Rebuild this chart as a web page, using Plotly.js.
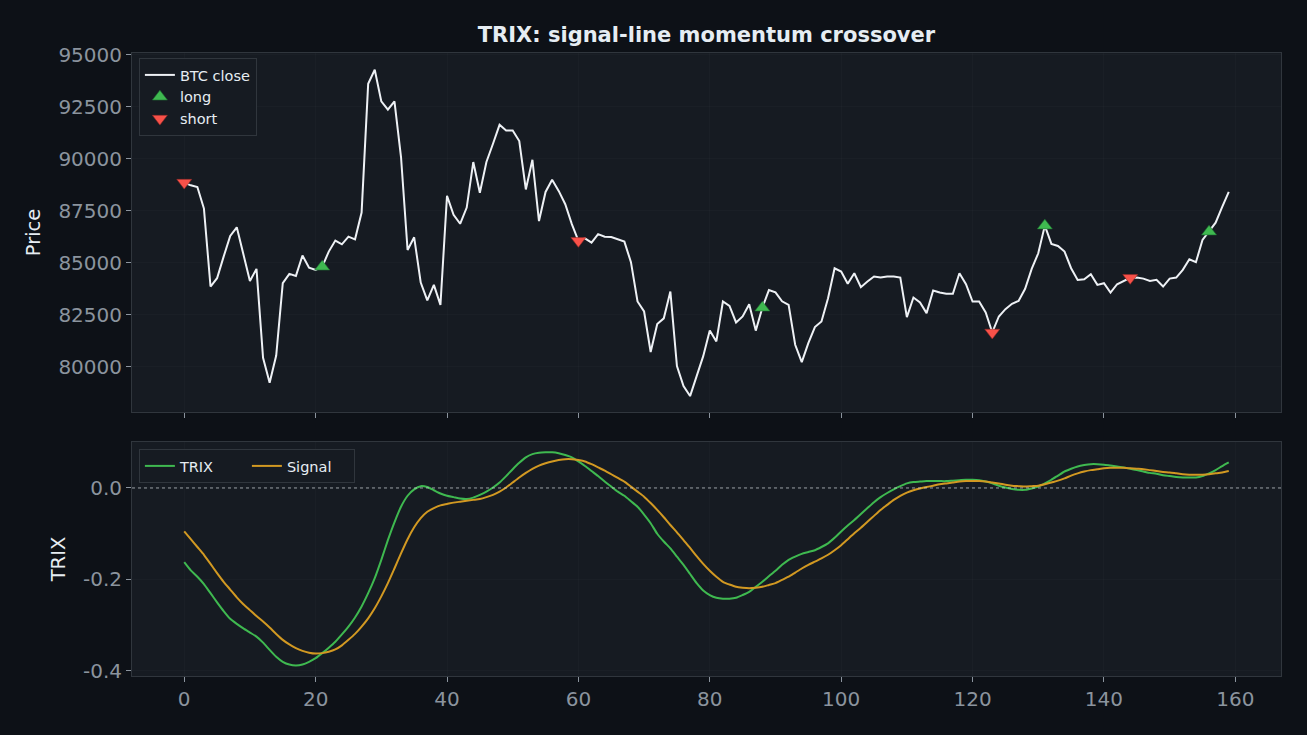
<!DOCTYPE html>
<html>
<head>
<meta charset="utf-8">
<script src="https://cdn.plot.ly/plotly-3.0.1.min.js"></script>
<style>
  html, body { margin: 0; padding: 0; background: #0d1117; }
  #myDiv { width: 1307px; height: 735px; }
</style>
</head>
<body>
<div id="myDiv"></div>
<script>
// BTC close (index 0..159)
const price = [
  88850, 88720, 88640, 87600, 83850, 84250, 85290, 86280, 86700, 85480,
  84120, 84700, 80420, 79220, 80530, 84010, 84460, 84360, 85340, 84760,
  84650, 84800, 85530, 86060, 85880, 86250, 86120, 87410, 93600, 94280,
  92760, 92360, 92760, 90080, 85610, 86220, 84040, 83180, 83930, 82970,
  88210, 87300, 86870, 87650, 89840, 88360, 89840, 90720, 91630, 91360,
  91360, 90850, 88520, 89950, 87000, 88400, 88990, 88450, 87810, 86850,
  86050, 86170, 85960, 86370, 86250, 86230, 86120, 86010, 85020, 83130,
  82650, 80700, 82050, 82320, 83610, 80020, 79060, 78580, 79540, 80500,
  81730, 81210, 83130, 82920, 82120, 82410, 83000, 81730, 82830, 83680,
  83570, 83140, 82970, 81050, 80210, 81130, 81900, 82170, 83290, 84730,
  84570, 83980, 84490, 83820, 84090, 84330, 84280, 84330, 84330, 84280,
  82380, 83320, 83080, 82570, 83660, 83560, 83500, 83500, 84490, 83960,
  83130, 83130, 82600, 81640, 82410, 82760, 83020, 83160, 83740, 84700,
  85450, 86780, 85900, 85800, 85530, 84730, 84170, 84200, 84440, 83930,
  84010, 83560, 83960, 84120, 84270, 84280, 84230, 84120, 84170, 83850,
  84230, 84280, 84650, 85160, 85020, 86090, 86490, 86920, 87680, 88400
];

const trix = [
  -0.162, -0.180, -0.194, -0.210, -0.230, -0.250, -0.269, -0.286, -0.297, -0.307,
  -0.316, -0.325, -0.338, -0.354, -0.369, -0.380, -0.386, -0.388, -0.386, -0.380,
  -0.372, -0.361, -0.349, -0.336, -0.320, -0.303, -0.283, -0.259, -0.230, -0.197,
  -0.157, -0.114, -0.075, -0.041, -0.017, -0.003, 0.004, 0.002, -0.005, -0.012,
  -0.017, -0.020, -0.023, -0.024, -0.021, -0.015, -0.008, 0.001, 0.012, 0.026,
  0.041, 0.055, 0.067, 0.074, 0.077, 0.078, 0.078, 0.076, 0.072, 0.067,
  0.058, 0.048, 0.037, 0.026, 0.014, 0.003, -0.008, -0.017, -0.029, -0.041,
  -0.058, -0.077, -0.100, -0.117, -0.132, -0.150, -0.168, -0.188, -0.208, -0.224,
  -0.234, -0.240, -0.242, -0.242, -0.240, -0.234, -0.227, -0.216, -0.205, -0.193,
  -0.181, -0.168, -0.157, -0.150, -0.144, -0.140, -0.136, -0.129, -0.121, -0.109,
  -0.095, -0.082, -0.070, -0.057, -0.044, -0.031, -0.020, -0.011, -0.003, 0.004,
  0.010, 0.013, 0.014, 0.015, 0.015, 0.015, 0.015, 0.016, 0.017, 0.018,
  0.018, 0.017, 0.014, 0.010, 0.005, 0.001, -0.002, -0.004, -0.004, -0.001,
  0.003, 0.010, 0.018, 0.027, 0.036, 0.042, 0.047, 0.050, 0.052, 0.052,
  0.051, 0.049, 0.047, 0.045, 0.042, 0.039, 0.036, 0.033, 0.031, 0.028,
  0.026, 0.024, 0.023, 0.023, 0.023, 0.026, 0.032, 0.039, 0.048, 0.056
];

const signal = [
  -0.095, -0.112, -0.129, -0.146, -0.166, -0.186, -0.205, -0.222, -0.239, -0.254,
  -0.267, -0.280, -0.292, -0.305, -0.319, -0.332, -0.342, -0.350, -0.356, -0.360,
  -0.362, -0.361, -0.358, -0.353, -0.344, -0.332, -0.319, -0.303, -0.285, -0.263,
  -0.237, -0.208, -0.176, -0.143, -0.112, -0.086, -0.066, -0.052, -0.044, -0.038,
  -0.035, -0.032, -0.030, -0.028, -0.026, -0.024, -0.020, -0.015, -0.008, 0.001,
  0.012, 0.023, 0.033, 0.042, 0.049, 0.054, 0.058, 0.061, 0.063, 0.063,
  0.061, 0.058, 0.052, 0.045, 0.038, 0.030, 0.022, 0.014, 0.003, -0.008,
  -0.019, -0.033, -0.048, -0.064, -0.081, -0.097, -0.114, -0.131, -0.149, -0.166,
  -0.181, -0.194, -0.205, -0.211, -0.216, -0.218, -0.219, -0.218, -0.216, -0.212,
  -0.208, -0.201, -0.194, -0.185, -0.176, -0.168, -0.161, -0.154, -0.146, -0.136,
  -0.125, -0.112, -0.099, -0.087, -0.074, -0.061, -0.048, -0.037, -0.026, -0.017,
  -0.010, -0.005, -0.001, 0.002, 0.005, 0.008, 0.010, 0.012, 0.014, 0.015,
  0.015, 0.015, 0.014, 0.012, 0.010, 0.007, 0.005, 0.004, 0.003, 0.004,
  0.005, 0.008, 0.012, 0.016, 0.021, 0.027, 0.032, 0.036, 0.039, 0.041,
  0.043, 0.044, 0.044, 0.044, 0.043, 0.042, 0.041, 0.039, 0.037, 0.035,
  0.034, 0.032, 0.030, 0.029, 0.029, 0.029, 0.030, 0.032, 0.034, 0.037
];

// crossover bars
const longIdx = [21, 88, 131, 156];
const shortIdx = [0, 60, 123, 144];

const xTicks = [0, 20, 40, 60, 80, 100, 120, 140, 160];
const priceTicks = [80000, 82500, 85000, 87500, 90000, 92500, 95000];
const trixTicks = [-0.4, -0.2, 0.0];
const trixTickText = ["-0.4", "-0.2", "0.0"];

const idx = price.map((_, i) => i);

const BG = "#0d1117";
const PANEL = "#161b22";
const SPINE = "#30363d";
const TXT = "#e6edf3";
const TICK = "#8b949e";
const FONT = "DejaVu Sans, sans-serif";

const data = [
    {
        type: "scatter", mode: "lines", name: "BTC close",
        x: idx, y: price, xaxis: "x", yaxis: "y",
        line: { color: "#eef1f5", width: 2 },
        legend: "legend",
    },
    {
        type: "scatter", mode: "markers", name: "long",
        x: longIdx, y: longIdx.map((i) => price[i]), xaxis: "x", yaxis: "y",
        marker: { symbol: "triangle-up", size: 13, color: "#3fb950", line: { color: "#1f6f33", width: 0.6 } },
        legend: "legend",
    },
    {
        type: "scatter", mode: "markers", name: "short",
        x: shortIdx, y: shortIdx.map((i) => price[i]), xaxis: "x", yaxis: "y",
        marker: { symbol: "triangle-down", size: 13, color: "#f85149", line: { color: "#8e2a26", width: 0.6 } },
        legend: "legend",
    },
    {
        type: "scatter", mode: "lines", name: "TRIX",
        x: idx, y: trix, xaxis: "x2", yaxis: "y2",
        line: { color: "#3fb950", width: 2, shape: "spline", smoothing: 0.6 },
        legend: "legend2",
    },
    {
        type: "scatter", mode: "lines", name: "Signal",
        x: idx, y: signal, xaxis: "x2", yaxis: "y2",
        line: { color: "#d29922", width: 2, shape: "spline", smoothing: 0.6 },
        legend: "legend2",
    },
];

const axisCommon = {
    showline: true, mirror: true, linecolor: SPINE, linewidth: 1,
    ticks: "outside", ticklen: 5, tickwidth: 1, tickcolor: TICK,
    tickfont: { family: FONT, size: 20, color: TICK },
    showgrid: true, gridcolor: "rgba(255,255,255,0.02)", gridwidth: 1,
    zeroline: false,
};

const legendCommon = {
    bgcolor: PANEL, bordercolor: SPINE, borderwidth: 1,
    font: { family: FONT, size: 14.5, color: TXT },
    xanchor: "left", yanchor: "top",
};

const layout = {
    width: 1307,
    height: 735,
    paper_bgcolor: BG,
    plot_bgcolor: PANEL,
    margin: { l: 132, r: 26, t: 53, b: 59 },
    font: { family: FONT, color: TXT },
    showlegend: true,
    title: {
        text: "<b>TRIX: signal-line momentum crossover</b>",
        font: { family: FONT, size: 21, color: TXT },
        x: 0.5405, xanchor: "center",
        y: 1 - 35 / 735, yref: "container", yanchor: "middle",
    },
    xaxis: Object.assign({}, axisCommon, {
        domain: [0, 1], anchor: "y", range: [-7.95, 166.95],
        tickvals: xTicks, showticklabels: false, matches: "x2",
    }),
    yaxis: Object.assign({}, axisCommon, {
        domain: [0.4238, 1], anchor: "x", range: [77815, 95085],
        tickvals: priceTicks, tickformat: "d",
        title: { text: "Price", font: { family: FONT, size: 19.5, color: TXT }, standoff: 12 },
    }),
    xaxis2: Object.assign({}, axisCommon, {
        domain: [0, 1], anchor: "y2", range: [-7.95, 166.95],
        tickvals: xTicks,
    }),
    yaxis2: Object.assign({}, axisCommon, {
        domain: [0, 0.3756], anchor: "x2", range: [-0.411, 0.1005],
        tickvals: trixTicks, ticktext: trixTickText,
        title: { text: "TRIX", font: { family: FONT, size: 19.5, color: TXT }, standoff: 12 },
    }),
    legend: Object.assign({}, legendCommon, {
        x: 0.006, y: 0.992, orientation: "v", tracegroupgap: 0,
    }),
    legend2: Object.assign({}, legendCommon, {
        x: 0.006, y: 0.3644, orientation: "h", entrywidth: 62,
    }),
    shapes: [
        {
            type: "line", xref: "x2 domain", yref: "y2",
            x0: 0, x1: 1, y0: 0, y1: 0,
            line: { color: "rgba(210,215,222,0.7)", width: 1, dash: "dot" },
        },
    ],
};

Plotly.newPlot("myDiv", data, layout, { displayModeBar: false, staticPlot: true });
</script>
</body>
</html>
